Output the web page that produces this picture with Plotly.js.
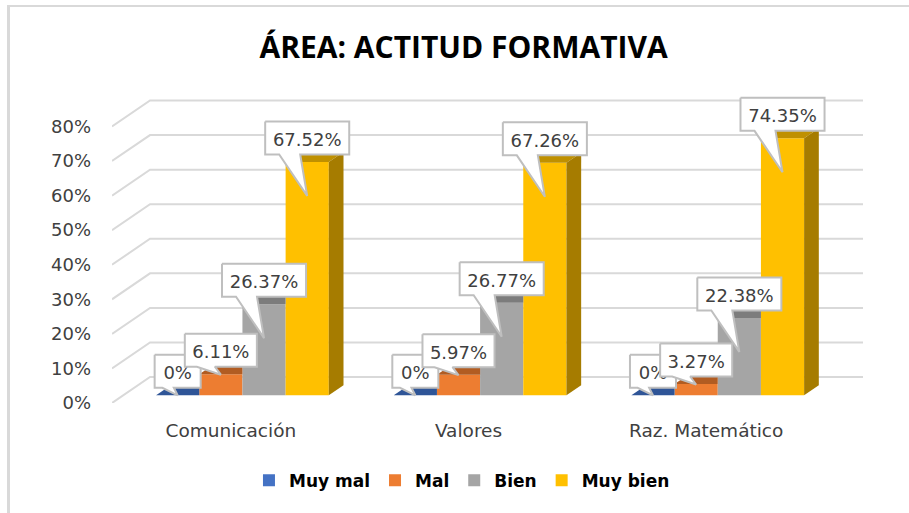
<!DOCTYPE html>
<html><head><meta charset="utf-8">
<script src="https://cdn.plot.ly/plotly-3.0.1.min.js"></script>
<style>
html,body{margin:0;padding:0;background:#fff;overflow:hidden}
#chart{position:absolute;left:0;top:0;width:909px;height:513px}
#frame{position:absolute;left:7px;top:5px;right:-4px;height:507px;border-top:2px solid #d9d9d9;border-left:3px solid #d9d9d9;pointer-events:none}
</style></head>
<body><div id="chart"></div><div id="frame"></div>
<script>
var categories = ["Comunicación", "Valores", "Raz. Matemático"];
var seriesNames = ["Muy mal", "Mal", "Bien", "Muy bien"];
var muyMal = [0, 0, 0];
var mal = [6.11, 5.97, 3.27];
var bien = [26.37, 26.77, 22.38];
var muyBien = [67.52, 67.26, 74.35];
var valueLabelsMuyMal = ["0%", "0%", "0%"];
var valueLabelsMal = ["6.11%", "5.97%", "3.27%"];
var valueLabelsBien = ["26.37%", "26.77%", "22.38%"];
var valueLabelsMuyBien = ["67.52%", "67.26%", "74.35%"];
var yTicks = [0, 10, 20, 30, 40, 50, 60, 70, 80];

var series = [muyMal, mal, bien, muyBien];
var labels = [valueLabelsMuyMal, valueLabelsMal, valueLabelsBien, valueLabelsMuyBien];
var faceColors = ["#4472c4", "#ed7d31", "#a5a5a5", "#ffc000"];
var topColors = ["#2f5597", "#b15c22", "#7c7c7c", "#bf9000"];
var sideColor = "#a67c00";

// Geometry of the simulated 3D projection
var PX_X = 237.5;          // pixels per category
var PX_Y = 3.459;          // pixels per percentage point
var px = function (v) { return v / PX_X; };
var py = function (v) { return v / PX_Y; };
var wallX = px(38), wallY = py(26);
var barOffX = px(11.6), barBase = py(7.7);
var depthX = px(14.7), depthY = py(10);
var barW = px(43.15);
var boxW = [46, 72, 84, 84], boxH = 33;
var tipOffset = [0, 0.5, 34, 34];
var labelFont = {family: "DejaVu Sans, sans-serif", size: 18, color: "#404040"};

var shapes = yTicks.map(function (t) {
  return {
    type: "path", layer: "below", xref: "x", yref: "y",
    path: "M0," + t + " L" + wallX + "," + (t + wallY) + " L" + (3 + wallX) + "," + (t + wallY),
    line: {color: "#d9d9d9", width: 2}
  };
});

var traces = [];
series.forEach(function (vals, s) {
  traces.push({
    type: "bar", name: seriesNames[s],
    x: vals.map(function (_, c) { return c + 0.5 + barOffX + (s - 1.5) * barW; }),
    y: vals, base: barBase, width: barW,
    marker: {color: faceColors[s], line: {width: 0}},
    hoverinfo: "skip"
  });
});

function poly(xs, ys, fillc, linec, lw) {
  traces.push({
    type: "scatter", mode: "lines", x: xs, y: ys, fill: "toself", fillcolor: fillc,
    line: {color: linec || fillc, width: lw || 0}, showlegend: false, hoverinfo: "skip",
    cliponaxis: false
  });
}

// Top and side faces
series.forEach(function (vals, s) {
  vals.forEach(function (v, c) {
    var l = c + 0.5 + barOffX + (s - 2) * barW, r = l + barW, t = v + barBase;
    var last = s === series.length - 1;
    var backR = last ? r + depthX : r;
    poly([l, l + depthX, backR, r, l], [t, t + depthY, t + depthY, t, t], topColors[s]);
    if (last) {
      poly([r, r + depthX, r + depthX, r, r],
           [barBase, barBase + depthY, t + depthY, t, barBase], sideColor);
    }
  });
});

// Callouts
categories.forEach(function (_, c) {
  series.forEach(function (vals, s) {
    var cx = c + 0.5 + barOffX + (s - 1.5) * barW, top = vals[c] + barBase;
    var w = px(boxW[s]), h = py(boxH);
    var yc = top + py(24);
    var L = cx - w / 2, R = cx + w / 2, T = yc + h / 2, B = yc - h / 2;
    var a = L + w * 0.1667, b = L + w * 0.4167, tipY = top - py(tipOffset[s]);
    poly([L, R, R, b, cx, a, L, L], [T, T, B, B, tipY, B, B, T], "#ffffff", "#bfbfbf", 2);
    traces.push({
      type: "scatter", mode: "text", x: [cx], y: [yc - py(3.5)], text: [labels[s][c]],
      textposition: "middle center", textfont: labelFont,
      showlegend: false, hoverinfo: "skip", cliponaxis: false
    });
  });
});

var layout = {
  width: 909, height: 513,
  margin: {l: 112.3, r: 909 - 112.3 - 3.16 * PX_X, t: 403 - 92 * PX_Y, b: 110, pad: 0},
  paper_bgcolor: "rgba(0,0,0,0)", plot_bgcolor: "rgba(0,0,0,0)",
  title: {text: "<b>ÁREA: ACTITUD FORMATIVA</b>", x: 0.51, xanchor: "center", y: 0.908, yanchor: "middle",
          font: {family: "Open Sans, sans-serif", size: 30, color: "#000000"}},
  barmode: "overlay",
  xaxis: {range: [0, 3.16], tickmode: "array", tickvals: [0.5, 1.5, 2.5], ticktext: categories,
          showgrid: false, zeroline: false, showline: false, ticks: "", ticklabelstandoff: 14,
          tickfont: {family: "DejaVu Sans, sans-serif", size: 18.5, color: "#404040"}},
  yaxis: {range: [0, 92], tickmode: "array", tickvals: yTicks,
          ticktext: yTicks.map(function (t) { return t + "%"; }),
          showgrid: false, zeroline: false, showline: false, ticks: "", ticklabelstandoff: 20,
          tickfont: {family: "DejaVu Sans, sans-serif", size: 18, color: "#404040"}},
  legend: {orientation: "h", x: 0.466, xanchor: "center", xref: "paper", y: -0.188, yanchor: "top",
           traceorder: "normal", itemclick: false, itemdoubleclick: false,
           font: {family: "DejaVu Sans, sans-serif", size: 17, color: "#000000", weight: "bold"}},
  shapes: shapes,
  showlegend: true
};
Plotly.newPlot("chart", traces, layout, {displayModeBar: false, staticPlot: true});
</script></body></html>
